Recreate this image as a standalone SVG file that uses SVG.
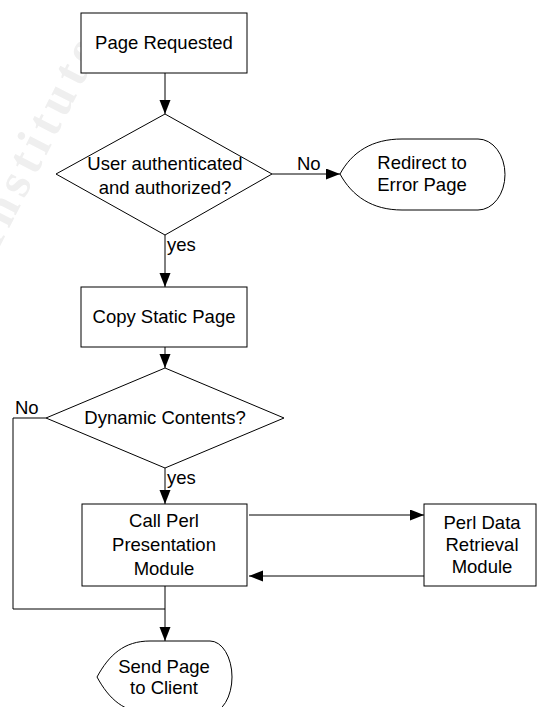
<svg xmlns="http://www.w3.org/2000/svg" width="537" height="707" viewBox="0 0 537 707">
  <style>
    .shape { fill: #ffffff; stroke: #000000; stroke-width: 1; }
    .line { fill: none; stroke: #000000; stroke-width: 1; }
    .label { font-family: "Liberation Sans", Arial, sans-serif; font-size: 18.5px; fill: #000000; text-anchor: middle; }
    .tag { font-family: "Liberation Sans", Arial, sans-serif; font-size: 18.5px; fill: #000000; }
    .mark { font-family: "Liberation Serif", "Times New Roman", serif; font-weight: bold; font-size: 50px; letter-spacing: 6px; fill: #efefef; }
  </style>
  <defs>
    <marker id="arrow" markerUnits="userSpaceOnUse" markerWidth="15" markerHeight="12" refX="14" refY="5.5" orient="auto">
      <path d="M0,0 L14,5.5 L0,11 Z" fill="#000000"/>
    </marker>
  </defs>

  <rect width="537" height="707" fill="#ffffff"/>
  <!-- faint background watermark -->
  <text class="mark" transform="translate(-3,252) rotate(-63)">Institute</text>

  <g id="connectors">
    <line class="line" x1="165" y1="73" x2="165" y2="114" marker-end="url(#arrow)"/>
    <line class="line" x1="272" y1="174" x2="340" y2="174" marker-end="url(#arrow)"/>
    <line class="line" x1="165" y1="235" x2="165" y2="287" marker-end="url(#arrow)"/>
    <line class="line" x1="165" y1="347" x2="165" y2="368" marker-end="url(#arrow)"/>
    <line class="line" x1="165" y1="468" x2="165" y2="504" marker-end="url(#arrow)"/>
    <line class="line" x1="249" y1="515" x2="424" y2="515" marker-end="url(#arrow)"/>
    <line class="line" x1="424" y1="576" x2="249" y2="576" marker-end="url(#arrow)"/>
    <polyline class="line" points="46,418 13,418 13,609 165,609"/>
    <line class="line" x1="165" y1="586" x2="165" y2="641" marker-end="url(#arrow)"/>
    <text class="tag" x="297" y="170">No</text>
    <text class="tag" x="167" y="251">yes</text>
    <text class="tag" x="15" y="414">No</text>
    <text class="tag" x="167" y="484">yes</text>
  </g>

  <g id="page-requested">
    <rect class="shape" x="81" y="13" width="166" height="60"/>
    <text class="label" x="164" y="49">Page Requested</text>
  </g>

  <g id="user-authenticated">
    <polygon class="shape" points="165,114 272,174 165,235 56,174"/>
    <text class="label" x="165" y="170">User authenticated</text>
    <text class="label" x="165" y="194">and authorized?</text>
  </g>

  <g id="redirect-error">
    <path class="shape" d="M340,174 C352,152 372,139 402,139 L478,139 A27,35.5 0 0 1 478,210 L402,210 C372,210 352,196 340,174 Z"/>
    <text class="label" x="422" y="169">Redirect to</text>
    <text class="label" x="422" y="191">Error Page</text>
  </g>

  <g id="copy-static-page">
    <rect class="shape" x="81" y="287" width="166" height="60"/>
    <text class="label" x="164" y="323">Copy Static Page</text>
  </g>

  <g id="dynamic-contents">
    <polygon class="shape" points="165,368 284,418 165,468 46,418"/>
    <text class="label" x="165" y="424">Dynamic Contents?</text>
  </g>

  <g id="call-perl-presentation">
    <rect class="shape" x="82" y="504" width="165" height="82"/>
    <text class="label" x="164" y="527">Call Perl</text>
    <text class="label" x="164" y="551">Presentation</text>
    <text class="label" x="164" y="575">Module</text>
  </g>

  <g id="perl-data-retrieval">
    <rect class="shape" x="424" y="504" width="112" height="82"/>
    <text class="label" x="482" y="529">Perl Data</text>
    <text class="label" x="482" y="551">Retrieval</text>
    <text class="label" x="482" y="573">Module</text>
  </g>

  <g id="send-page">
    <path class="shape" d="M97,677 C109,655 124,641 150,641 L210,641 A22,36 0 0 1 210,713 L150,713 C124,713 109,699 97,677 Z"/>
    <text class="label" x="164" y="673">Send Page</text>
    <text class="label" x="164" y="694">to Client</text>
  </g>
</svg>
